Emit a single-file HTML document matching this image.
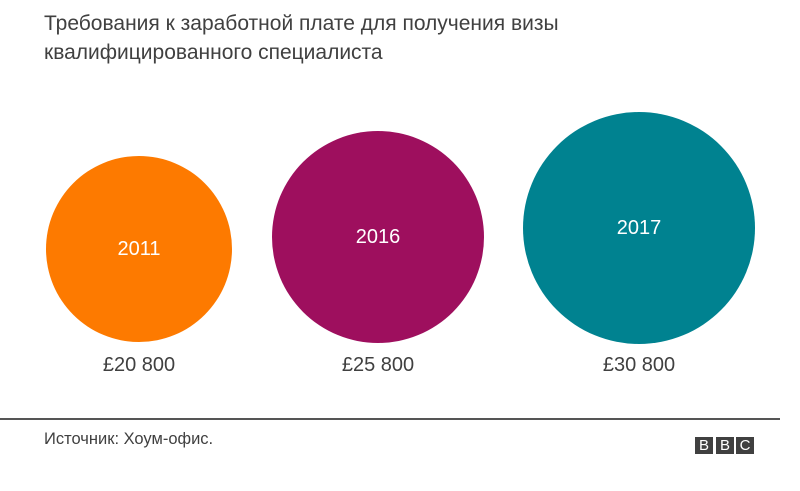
<!DOCTYPE html>
<html><head><meta charset="utf-8"><style>
body{margin:0;width:800px;height:491px;background:#fff;position:relative;font-family:"Liberation Sans","Noto Sans CJK SC",sans-serif;overflow:hidden}
.t{position:absolute;left:44px;top:9px;font-size:21px;line-height:29px;color:#404040}
.c{position:absolute;border-radius:50%;color:#fff;font-size:20px;display:flex;align-items:center;justify-content:center}
.v{position:absolute;font-size:20px;color:#404040;width:200px;text-align:center;top:354px}
.line{position:absolute;left:0;top:418px;width:780px;height:2px;background:#555}
.s{position:absolute;left:44px;top:430px;font-size:16.5px;color:#404040}
.b{position:absolute;top:437px;width:18px;height:17px;background:#404040;color:#fff;font-size:15px;line-height:17px;text-align:center}
</style></head><body>
<div class="t">Требования к заработной плате для получения визы<br>квалифицированного специалиста</div>
<div class="c" style="left:46px;top:156px;width:186px;height:186px;background:#fd7a00">2011</div>
<div class="c" style="left:272px;top:131px;width:212px;height:212px;background:#9e0f5e">2016</div>
<div class="c" style="left:523px;top:112px;width:232px;height:232px;background:#008290">2017</div>
<div class="v" style="left:39px">£20 800</div>
<div class="v" style="left:278px">£25 800</div>
<div class="v" style="left:539px">£30 800</div>
<div class="line"></div>
<div class="s">Источник: Хоум-офис.</div>
<div class="b" style="left:695px">B</div>
<div class="b" style="left:716px">B</div>
<div class="b" style="left:736px">C</div>
</body></html>
